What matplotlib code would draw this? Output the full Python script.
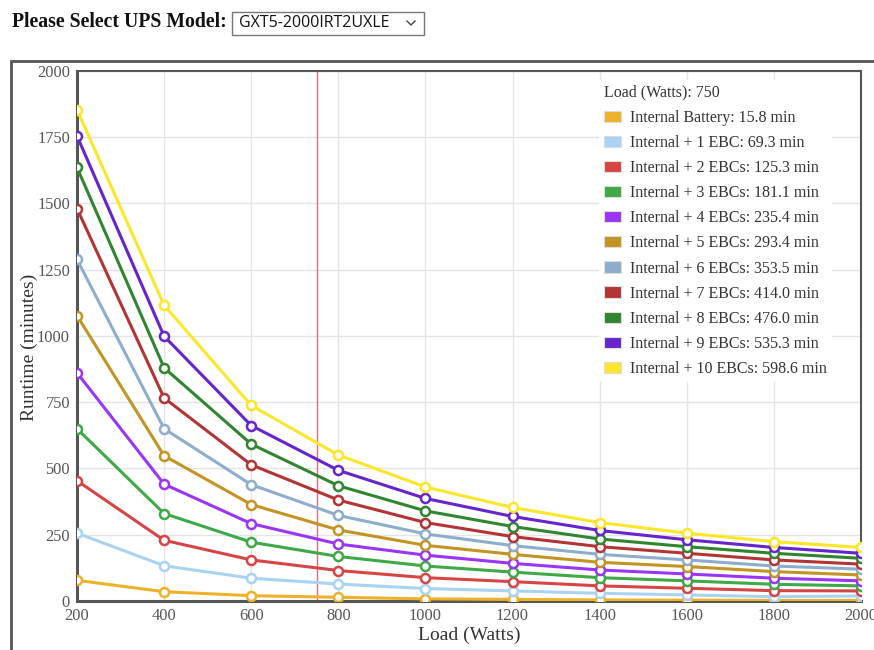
import matplotlib
matplotlib.use("Agg")
import matplotlib.pyplot as plt
from matplotlib.patches import Patch, Rectangle
from matplotlib.lines import Line2D

# Load points (Watts)
loads = [200, 400, 600, 800, 1000, 1200, 1400, 1600, 1800, 2000]

# Runtime (minutes) per configuration
internal = [78, 35, 20, 14, 8, 6, 4, 3, 2, 2]
ebc_1 = [256, 133, 86, 64, 47, 38, 29, 23, 16, 19]
ebc_2 = [454, 229, 155, 115, 88, 73, 57, 48, 39, 38]
ebc_3 = [650, 330, 222, 168, 132, 109, 88, 76, 63, 57]
ebc_4 = [861, 441, 292, 215, 173, 142, 117, 102, 86, 76]
ebc_5 = [1077, 548, 364, 268, 210, 176, 146, 130, 111, 98]
ebc_6 = [1289, 650, 439, 323, 253, 209, 176, 155, 132, 120]
ebc_7 = [1481, 766, 514, 381, 296, 243, 205, 180, 155, 139]
ebc_8 = [1636, 880, 592, 435, 340, 281, 234, 205, 180, 161]
ebc_9 = [1755, 999, 662, 493, 387, 319, 266, 231, 202, 180]
ebc_10 = [1854, 1116, 738, 551, 430, 353, 296, 256, 224, 202]

series = [internal, ebc_1, ebc_2, ebc_3, ebc_4, ebc_5,
          ebc_6, ebc_7, ebc_8, ebc_9, ebc_10]
names = ["Internal Battery", "Internal + 1 EBC", "Internal + 2 EBCs",
         "Internal + 3 EBCs", "Internal + 4 EBCs", "Internal + 5 EBCs",
         "Internal + 6 EBCs", "Internal + 7 EBCs", "Internal + 8 EBCs",
         "Internal + 9 EBCs", "Internal + 10 EBCs"]
# runtime at the selected load, as shown in the legend
selected_load = 750
selected_runtime = [15.8, 69.3, 125.3, 181.1, 235.4, 293.4,
                    353.5, 414.0, 476.0, 535.3, 598.6]
colors = ["#EDB22A", "#A9D3F3", "#D64545", "#3FA847", "#9A35F5", "#C39423",
          "#8EACCB", "#B23434", "#2F862F", "#6624CC", "#FBE62A"]

model = "GXT5-2000IRT2UXLE"

serif = ["Liberation Serif", "DejaVu Serif"]
plt.rcParams["font.family"] = serif

fig = plt.figure(figsize=(8.74, 6.5), dpi=100)
ax = fig.add_axes([0.0881, 0.0754, 0.8970, 0.8154])

for vals, col in zip(series, colors):
    ax.plot(loads, vals, color=col, lw=2.2, marker="o", ms=6.5,
            mfc="white", mec=col, mew=1.8, zorder=3)

ax.axvline(selected_load, color="#E26B78", lw=1, zorder=2)

ax.set_xlim(200, 2000)
ax.set_ylim(0, 2000)
ax.set_xticks(loads)
ax.set_yticks(range(0, 2001, 250))
ax.grid(color="#e4e4e4", lw=1)
ax.set_axisbelow(True)
ax.tick_params(length=0, pad=5, labelsize=11.8, colors="#555555")
for s in ax.spines.values():
    s.set_color("#555555")
    s.set_linewidth(1.5)
ax.spines["left"].set_linewidth(2.2)
ax.spines["bottom"].set_linewidth(2.2)

ax.set_xlabel("Load (Watts)", fontsize=14, color="#333333")
ax.set_ylabel("Runtime (minutes)", fontsize=14, color="#333333")
ax.xaxis.set_label_coords(0.5, -0.048)
ax.yaxis.set_label_coords(-0.05, 0.479)

handles = [Patch(facecolor=c, edgecolor="#dddddd", lw=0.8) for c in colors]
labels = [f"{n}: {v:.1f} min" for n, v in zip(names, selected_runtime)]
leg = ax.legend(handles, labels, title=f"Load (Watts): {selected_load}",
                loc="upper left", bbox_to_anchor=(0.656, 0.998),
                fontsize=11.5, title_fontsize=11.5, frameon=True,
                facecolor="white", edgecolor="none", framealpha=1,
                handlelength=1.05, handleheight=0.7, handletextpad=0.6,
                labelspacing=0.57, borderpad=0.3, alignment="left",
                labelcolor="#333333")
leg.get_title().set_color("#333333")
leg.set_zorder(5)

# page chrome: header, dropdown and outer frame
fig.text(12 / 874, 1 - 22 / 650, "Please Select UPS Model:", fontsize=14.2,
         fontweight="bold", va="center", ha="left", color="#111111")
fig.add_artist(Rectangle((232 / 874, 1 - 35 / 650), 192 / 874, 23 / 650,
                         transform=fig.transFigure, fill=False,
                         edgecolor="#767676", lw=1))
fig.text(239 / 874, 1 - 23 / 650, model, fontsize=11.5,
         family=["Open Sans", "DejaVu Sans"], va="center", ha="left",
         color="#111111")
fig.add_artist(Line2D([407 / 874, 411 / 874, 415 / 874],
                      [1 - 21 / 650, 1 - 25 / 650, 1 - 21 / 650],
                      transform=fig.transFigure, color="#444444", lw=1))
fig.add_artist(Rectangle((11 / 874, -0.05), 1.1, 1.05 - 61 / 650,
                         transform=fig.transFigure, fill=False,
                         edgecolor="#555555", lw=2))

fig.savefig("out.png", dpi=100)
